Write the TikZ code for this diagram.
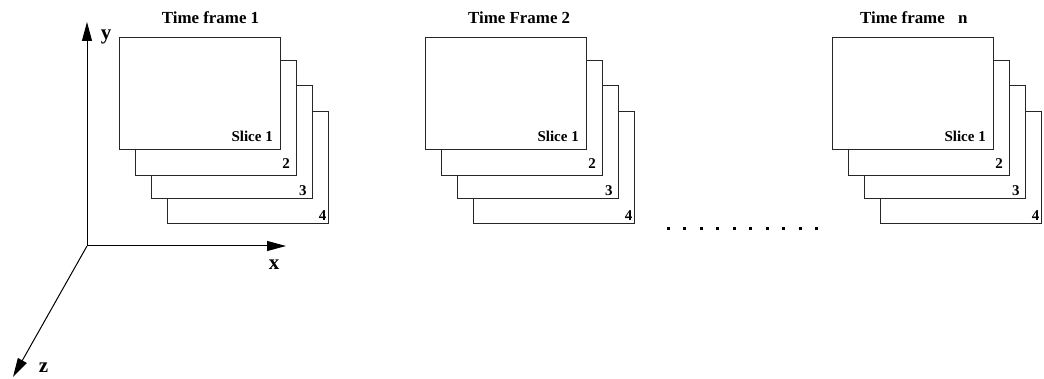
\documentclass[tikz,border=0pt]{standalone}
\usepackage{fontspec}
\setmainfont{Liberation Serif}
\usetikzlibrary{arrows.meta}
\begin{document}
\begin{tikzpicture}[x=1pt,y=-1pt,
  slicebox/.style={draw=black!85,line width=1pt,fill=white,inner sep=0pt,anchor=north west,minimum width=161pt,minimum height=112.5pt},
  slicelbl/.style={anchor=base east,inner sep=0pt,font=\fontsize{15}{15}\selectfont\bfseries},
  titlelbl/.style={anchor=base west,inner sep=0pt,font=\fontsize{16.9}{17}\selectfont\bfseries},
  axislbl/.style={inner sep=0pt,font=\fontsize{21}{21}\selectfont\bfseries},
  axis/.style={line width=1pt,-{Triangle[length=19pt,width=10pt]}}]
\useasboundingbox (0,0) rectangle (1044,379);
% axes
\coordinate (O) at (87,246);
\coordinate (Y) at (87,22);
\coordinate (X) at (286,246);
\coordinate (Z) at (13,377);
\draw[axis] (O) -- (Y);
\draw[axis] (O) -- (X);
\draw[axis] (O) -- (Z);
\node[axislbl] (ylbl) at (106,37) {y};
\node[axislbl] (xlbl) at (274,265) {x};
\node[axislbl] (zlbl) at (43.5,368) {z};
% stacks
\foreach \L/\n in {119/a,425/b,832/c}{
  \node[slicebox] (\n4) at (\L+48,111) {};
  \node[slicebox] (\n3) at (\L+32,85.5) {};
  \node[slicebox,minimum height=115pt] (\n2) at (\L+16,60) {};
  \node[slicebox] (\n1) at (\L,36.7) {};
  \node[slicelbl] (\n1l) at (\L+154,141.7) {Slice 1};
  \node[slicelbl] (\n2l) at (\L+171,168.3) {2};
  \node[slicelbl] (\n3l) at (\L+187.7,195.7) {3};
  \node[slicelbl] (\n4l) at (\L+207.5,220.7) {4};
}
\node[titlelbl] (ta) at (161.7,24) {Time frame 1};
\node[titlelbl] (tb) at (468,24) {Time Frame 2};
\node[titlelbl] (tc) at (860,24) {Time frame\hspace{9pt} n};
% dots
\coordinate (d1) at (667,229);
\coordinate (d2) at (818,229);
\draw[line width=3pt,dash pattern=on 3pt off 13.45pt] (d1) -- (d2);
\end{tikzpicture}
\end{document}
